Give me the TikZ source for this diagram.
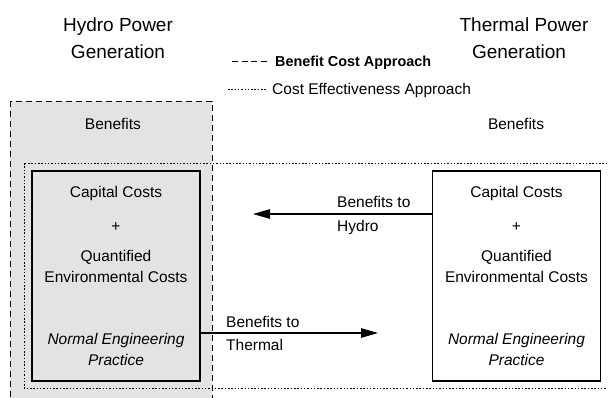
\documentclass[tikz,border=0pt]{standalone}
\usepackage{fontspec}
\setmainfont{Liberation Sans}
\usetikzlibrary{arrows.meta}
\begin{document}
\begin{tikzpicture}[x=1pt,y=-1pt,
 txt/.style={inner sep=0pt, text height=11.2pt, text depth=0pt, font=\fontsize{15.5}{18}\selectfont},
 itxt/.style={txt, font=\itshape\fontsize{15.5}{18}\selectfont},
 ttl/.style={inner sep=0pt, text height=13.7pt, text depth=0pt, font=\fontsize{19}{22}\selectfont},
 costbox/.style={draw, line width=1.1pt, minimum width=168pt, minimum height=210pt, inner sep=0pt},
 bcline/.style={line width=1pt, dash pattern=on 6pt off 4pt},
 celine/.style={line width=1pt, dash pattern=on 1.5pt off 1.8pt},
 arr/.style={line width=1.1pt, -{Triangle[length=17pt,width=9.5pt]}}
]
\useasboundingbox (0,0) rectangle (608,397);
\fill[white] (0,0) rectangle (608,397);
\clip (0,0) rectangle (608,397);

% titles
\node[ttl] (hyt1) at (118,25) {Hydro Power};
\node[ttl] (hyt2) at (118,52) {Generation};
\node[ttl] (tht1) at (524,25) {Thermal Power};
\node[ttl] (tht2) at (519,52) {Generation};

% legend
\node[txt, anchor=west, font=\bfseries\fontsize{14.4}{17}\selectfont] (lg1) at (275,61) {Benefit Cost Approach};
\node[txt, anchor=west] (lg2) at (272,89) {Cost Effectiveness Approach};
\draw[line width=1pt, dash pattern=on 6pt off 3.5pt] (232,61) -- (268,61);
\draw[celine] (228,89) -- (266,89);

% benefit cost region (hydro)
\draw[bcline, fill=black!11] (10,101) rectangle (212,420);
% cost effectiveness region
\draw[celine] (24,163) rectangle (640,388);

\node[txt] (hben) at (113,124) {Benefits};
\node[txt] (tben) at (516,124) {Benefits};

% cost boxes
\node[costbox] (hbox) at (116,276) {};
\node[costbox, fill=white] (tbox) at (516.5,276) {};

\node[txt] (h1) at (116,192) {Capital Costs};
\node[txt] (h2) at (116,226) {+};
\node[txt] (h3) at (116,256) {Quantified};
\node[txt] (h4) at (116,277) {Environmental Costs};
\node[itxt] (h5) at (116,339) {Normal Engineering};
\node[itxt] (h6) at (116,360) {Practice};

\node[txt] (t1) at (516.5,192) {Capital Costs};
\node[txt] (t2) at (516.5,226) {+};
\node[txt] (t3) at (516.5,256) {Quantified};
\node[txt] (t4) at (516.5,277) {Environmental Costs};
\node[itxt] (t5) at (516.5,339) {Normal Engineering};
\node[itxt] (t6) at (516.5,360) {Practice};

% arrows
\coordinate (hyend) at (253,214);
\coordinate (thend) at (378,333);
\draw[arr] (hyend -| tbox.west) -- (hyend);
\draw[arr] (thend -| hbox.east) -- (thend);

\node[txt, anchor=west] (la1) at (337,202) {Benefits to};
\node[txt, anchor=west] (la2) at (337,226) {Hydro};
\node[txt, anchor=west] (lb1) at (226,322) {Benefits to};
\node[txt, anchor=west] (lb2) at (226,345) {Thermal};
\end{tikzpicture}
\end{document}
